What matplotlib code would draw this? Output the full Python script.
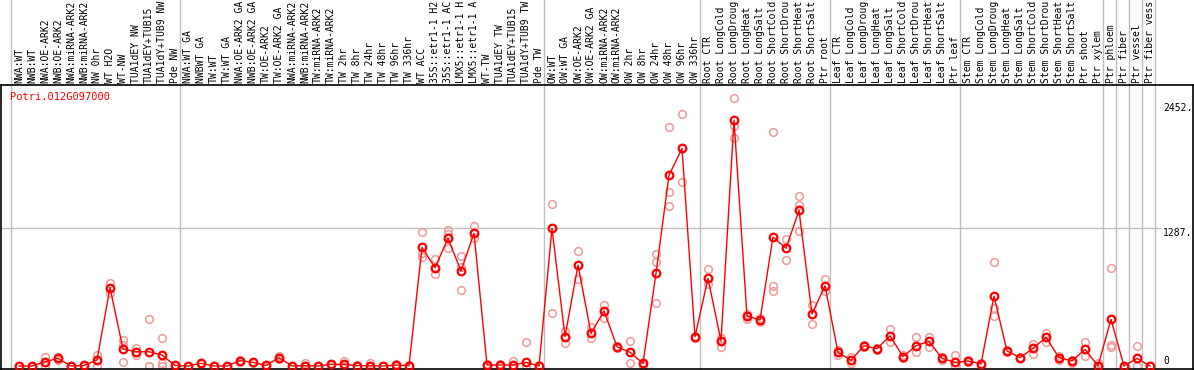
import matplotlib
matplotlib.use("Agg")
import matplotlib.pyplot as plt
from matplotlib.transforms import IdentityTransform, blended_transform_factory

gene = "Potri.012G097000"

labels = [
    "NWA:WT", "NWB:WT", "NWA:OE-ARK2", "NWB:OE-ARK2", "NWA:miRNA-ARK2",
    "NWB:miRNA-ARK2", "NW 0hr", "WT H2O", "WT-NW", "TUA1dEY NW",
    "TUA1dEY+TUB15", "TUA1dY+TUB9 NW", "Pde NW",
    "NWA:WT GA", "NWBWT GA", "TW:WT", "TW:WT GA", "NWA:OE-ARK2 GA",
    "NWB:OE-ARK2 GA", "TW:OE-ARK2", "TW:OE-ARK2 GA", "NWA:miRNA-ARK2",
    "NWB:miRNA-ARK2", "TW:miRNA-ARK2", "TW:miRNA-ARK2", "TW 2hr", "TW 8hr",
    "TW 24hr", "TW 48hr", "TW 96hr", "TW 336hr", "WT ACC", "35S::etr1-1 H2",
    "35S::etr1-1 AC", "LMX5::etr1-1 H", "LMX5::etr1-1 A", "WT-TW",
    "TUA1dEY TW", "TUA1dEY+TUB15", "TUA1dY+TUB9 TW", "Pde TW",
    "OW:WT", "OW:WT GA", "OW:OE-ARK2", "OW:OE-ARK2 GA", "OW:miRNA-ARK2",
    "OW:miRNA-ARK2", "OW 2hr", "OW 8hr", "OW 24hr", "OW 48hr", "OW 96hr",
    "OW 336hr",
    "Root CTR", "Root LongCold", "Root LongDroug", "Root LongHeat",
    "Root LongSalt", "Root ShortCold", "Root ShortDrou", "Root ShortHeat",
    "Root ShortSalt", "Ptr root",
    "Leaf CTR", "Leaf LongCold", "Leaf LongDroug", "Leaf LongHeat",
    "Leaf LongSalt", "Leaf ShortCold", "Leaf ShortDrou", "Leaf ShortHeat",
    "Leaf ShortSalt", "Ptr leaf",
    "Stem CTR", "Stem LongCold", "Stem LongDroug", "Stem LongHeat",
    "Stem LongSalt", "Stem ShortCold", "Stem ShortDrou", "Stem ShortHeat",
    "Stem ShortSalt", "Ptr shoot", "Ptr xylem",
    "Ptr phloem", "Ptr fiber", "Ptr vessel", "Ptr fiber vess",
]
group_sizes = [13, 28, 12, 10, 10, 11, 1, 1, 1, 1]

means = [
    0, 0, 40, 71, 0, 5, 56, 730, 158, 133, 133, 102, 5,
    0, 25, 0, 0, 50, 34, 5, 78, 0, 3, 0, 16, 16, 3, 3, 0, 9, 3,
    1106, 916, 1190, 885, 1237, 9, 9, 9, 34, 0,
    1283, 273, 941, 305, 513, 180, 127, 25, 864, 1777, 2028, 273,
    817, 233, 2293, 466, 429, 1202, 1097, 1451, 485, 748,
    127, 53, 189, 161, 282, 87, 189, 230, 71, 34,
    47, 19, 652, 140, 78, 164, 267, 78, 47, 155, 0,
    435, 0, 71, 0,
]

reps = [
    [0, 0, 0], [0, 0, 0], [87, 40, 0], [80, 71, 60], [0, 0, 0], [8, 5, 0],
    [102, 56, 0], [770, 730, 677], [242, 195, 40], [164, 133, 102],
    [435, 0, 0], [258, 25, 0], [8, 5, 0],
    [0, 0, 0], [30, 25, 20], [0, 0, 0], [0, 0, 0], [60, 50, 40],
    [40, 34, 28], [8, 5, 0], [90, 78, 65], [0, 0, 0], [25, 3, 0],
    [0, 0, 0], [20, 16, 10], [50, 16, 0], [5, 3, 0], [25, 3, 0],
    [0, 0, 0], [15, 9, 3], [5, 3, 0],
    [1246, 1050, 1013], [994, 916, 857], [1267, 1227, 1097],
    [1028, 926, 708], [1305, 1237, 1196], [20, 9, 0], [15, 9, 3],
    [50, 9, 0], [221, 34, 0], [5, 0, 0],
    [1510, 1283, 491], [326, 273, 211], [1072, 941, 811], [366, 305, 258],
    [568, 513, 444], [190, 180, 170], [233, 127, 25], [25, 20, 0],
    [1044, 966, 584], [2224, 1619, 1491], [2345, 2028, 1718], [280, 273, 265],
    [901, 817, 764], [258, 233, 174], [2495, 2240, 2121], [480, 466, 435],
    [450, 429, 410], [2178, 746, 699], [1181, 1097, 985],
    [1584, 1500, 1261], [568, 485, 389], [808, 748, 700],
    [150, 127, 105], [80, 53, 30], [200, 189, 180], [150, 161, 172],
    [342, 282, 227],
    [100, 87, 75], [273, 189, 127], [273, 230, 180], [80, 71, 60],
    [102, 34, 0], [60, 47, 35], [25, 19, 10], [969, 537, 466],
    [150, 140, 130], [85, 78, 70], [202, 164, 112], [310, 267, 221],
    [90, 78, 60], [60, 47, 30], [221, 155, 93], [31, 0, 0],
    [910, 196, 174], [0, 0, 0], [186, 71, 0], [0, 0, 0],
]

y_ticks = [0, 1287, 2452]
y_tick_text = ["0", "1287.", "2452."]

mono = "DejaVu Sans Mono"
W, H = 1194, 370
fig = plt.figure(figsize=(W / 100, H / 100), dpi=100)
ax = fig.add_axes([1 / W, 1 / H, 1192 / W, 284 / H])

x = list(range(len(labels)))
ax.set_xlim((1 - 19) / 13, (1193 - 19) / 13)
ax.set_ylim(-28, 2619)

# group separators run up through the label area
edge = -0.6
ax.axvline(edge, ymin=0, ymax=1.4, color="#c0c0c0", lw=1, clip_on=False, zorder=0)
for g in group_sizes:
    edge += g
    ax.axvline(edge, ymin=0, ymax=1.4, color="#c0c0c0", lw=1, clip_on=False, zorder=0)

ax.axhline(1287, xmax=(1160 - 1) / 1192, color="#c0c0c0", lw=1, zorder=0)

for i, r in enumerate(reps):
    ax.plot([i] * len(r), r, "o", ms=5.5, mfc="none", mec="#f09a9a", mew=1.1, zorder=2)

ax.plot(x, means, "-", color="red", lw=1, zorder=3)
ax.plot(x, means, "o", ms=5.5, mfc="none", mec="red", mew=1.6, zorder=4)

ax.set_xticks(x)
ax.set_xticklabels(labels, rotation=90, fontfamily=mono, fontsize=7)
ax.tick_params(axis="x", top=True, bottom=False, labeltop=True,
               labelbottom=False, length=0, pad=1.5)
ax.set_yticks([])

ytrans = blended_transform_factory(IdentityTransform(), ax.transData)
for v, t in zip(y_ticks, y_tick_text):
    ax.text(1163, v, t, transform=ytrans, fontfamily=mono, fontsize=7,
            ha="left", va="bottom" if v == 0 else "top")

ax.text(10, H - 97, gene, transform=IdentityTransform(),
        color="red", fontfamily=mono, fontsize=7.5, va="center")

for s in ax.spines.values():
    s.set_color("black")
    s.set_linewidth(1.2)

fig.savefig("out.png", dpi=100)
